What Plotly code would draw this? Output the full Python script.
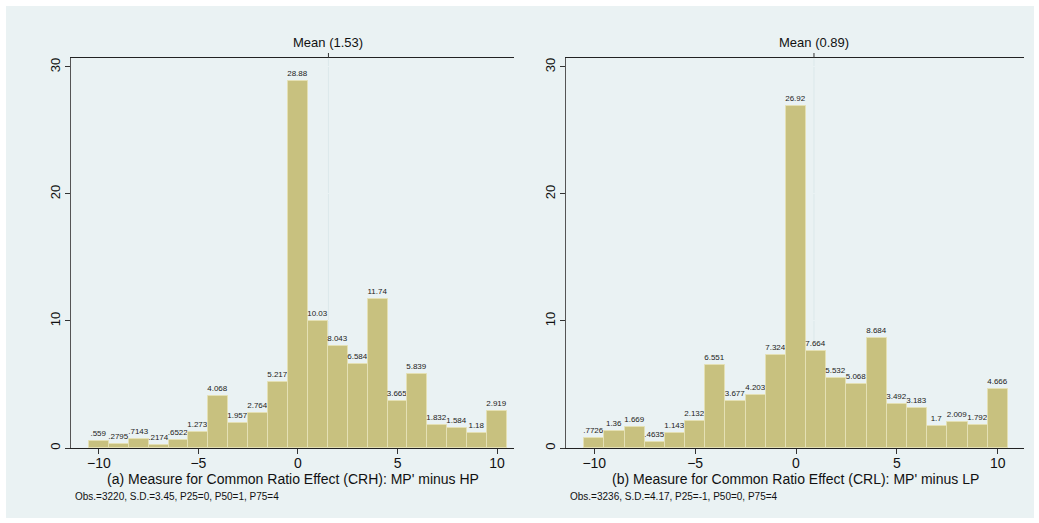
import plotly.graph_objects as go

# Histogram bins (percent of observations), one bin per integer difference
bins = list(range(-10, 11))
crh_pct = [0.559, 0.2795, 0.7143, 0.2174, 0.6522, 1.273, 4.068, 1.957, 2.764, 5.217,
           28.88, 10.03, 8.043, 6.584, 11.74, 3.665, 5.839, 1.832, 1.584, 1.18, 2.919]
crh_lbl = [".559", ".2795", ".7143", ".2174", ".6522", "1.273", "4.068", "1.957", "2.764", "5.217",
           "28.88", "10.03", "8.043", "6.584", "11.74", "3.665", "5.839", "1.832", "1.584", "1.18", "2.919"]
crl_pct = [0.7726, 1.36, 1.669, 0.4635, 1.143, 2.132, 6.551, 3.677, 4.203, 7.324,
           26.92, 7.664, 5.532, 5.068, 8.684, 3.492, 3.183, 1.7, 2.009, 1.792, 4.666]
crl_lbl = [".7726", "1.36", "1.669", ".4635", "1.143", "2.132", "6.551", "3.677", "4.203", "7.324",
           "26.92", "7.664", "5.532", "5.068", "8.684", "3.492", "3.183", "1.7", "2.009", "1.792", "4.666"]

means = [1.53, 0.89]
titles = ["(a) Measure for Common Ratio Effect (CRH): MP' minus HP",
          "(b) Measure for Common Ratio Effect (CRL): MP' minus LP"]
notes = ["Obs.=3220, S.D.=3.45, P25=0, P50=1, P75=4",
         "Obs.=3236, S.D.=4.17, P25=-1, P50=0, P75=4"]
x_ticks = [-10, -5, 0, 5, 10]
y_ticks = [0, 10, 20, 30]

FONT = "Liberation Sans, Arial, sans-serif"
BG = "#EAF2F3"
BAR = "#C8C17F"
BAR_EDGE = "#E4E0B4"

W, H = 1039, 523
ML, MR, MT, MB = 71, 15, 58, 75
PW, PH = W - ML - MR, H - MT - MB


def px_x(p):
    return (p - ML) / PW


def px_y(p):
    return (H - MB - p) / PH


fig = go.Figure()
for i, (vals, lbls) in enumerate([(crh_pct, crh_lbl), (crl_pct, crl_lbl)]):
    sfx = "" if i == 0 else "2"
    fig.add_trace(go.Bar(
        x=bins, y=vals, text=lbls, width=1.0,
        textposition="outside", constraintext="none", cliponaxis=False,
        textfont=dict(size=8, color="#222222", family=FONT),
        marker=dict(color=BAR, line=dict(color=BAR_EDGE, width=1)),
        xaxis="x" + sfx, yaxis="y" + sfx, showlegend=False,
    ))

axis_common = dict(
    showline=True, linecolor="#222222", linewidth=1,
    ticks="outside", ticklen=5, tickcolor="#333333",
    tickfont=dict(family=FONT, size=14, color="#111111"),
    zeroline=False,
)
yaxis_common = dict(
    axis_common, range=[0, 30.7], tickvals=y_ticks, tickangle=-90,
    showgrid=True, gridcolor=BG, gridwidth=1, linecolor="#555555",
    tickfont=dict(family=FONT, size=13, color="#111111"),
)

doms = [[0, px_x(514)], [px_x(566), 1]]
xranges = [[-11.4, 10.85], [-11.4, 11.3]]

fig.update_layout(
    width=W, height=H,
    margin=dict(l=ML, r=MR, t=MT, b=MB),
    paper_bgcolor="white", plot_bgcolor="white",
    bargap=0,
    font=dict(family=FONT),
    xaxis=dict(axis_common, domain=doms[0], range=xranges[0], tickvals=x_ticks,
               showgrid=False, mirror=True, anchor="y", ticklabelstandoff=-3),
    yaxis=dict(yaxis_common, anchor="x"),
    xaxis2=dict(axis_common, domain=doms[1], range=xranges[1], tickvals=x_ticks,
                showgrid=False, mirror=True, anchor="y2", ticklabelstandoff=-3),
    yaxis2=dict(yaxis_common, anchor="x2"),
)

shapes = [dict(type="rect", xref="paper", yref="paper",
               x0=px_x(6), x1=px_x(1034), y0=px_y(518), y1=px_y(6),
               fillcolor=BG, line=dict(width=0), layer="below")]
annotations = []
for i in range(2):
    xr = "x" if i == 0 else "x2"
    # mean reference line and top-axis tick
    shapes.append(dict(type="line", xref=xr, yref=xr.replace("x", "y") + " domain",
                       x0=means[i], x1=means[i], y0=0, y1=1,
                       line=dict(color="#DCE8EA", width=1), layer="below"))
    shapes.append(dict(type="line", xref=xr, yref=xr.replace("x", "y") + " domain",
                       x0=means[i], x1=means[i], y0=1, y1=1 + 5 / PH,
                       line=dict(color="#333333", width=1)))
    annotations.append(dict(text=f"Mean ({means[i]:.2f})", xref=xr, yref="paper",
                            x=means[i], y=px_y(43), showarrow=False,
                            xanchor="center", yanchor="middle",
                            font=dict(family=FONT, size=13, color="#111111")))
    annotations.append(dict(text=titles[i], xref=xr + " domain", yref="paper",
                            x=0.5, y=px_y(479), showarrow=False,
                            xanchor="center", yanchor="middle",
                            font=dict(family=FONT, size=14, color="#111111")))
    annotations.append(dict(text=notes[i], xref="paper", yref="paper",
                            x=px_x(73 if i == 0 else 568), y=px_y(496), showarrow=False,
                            xanchor="left", yanchor="middle",
                            font=dict(family=FONT, size=10, color="#111111")))

fig.update_layout(shapes=shapes, annotations=annotations)
fig.write_html("out.html")
